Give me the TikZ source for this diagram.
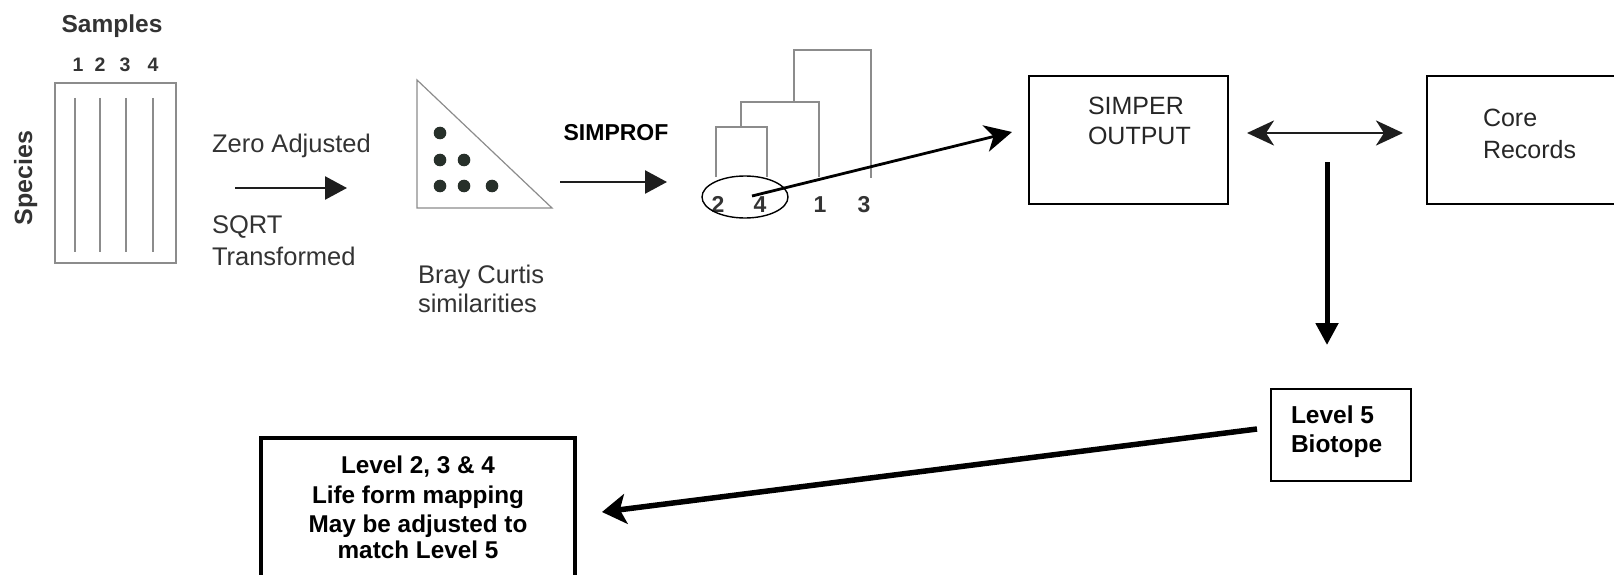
\documentclass[tikz,border=0pt]{standalone}
\usepackage{fontspec}
\setmainfont{Liberation Sans}
\usetikzlibrary{arrows.meta,shapes.geometric,calc}
\newcommand\myfs[1]{\fontsize{#1}{#1}\selectfont}
\definecolor{scangrey}{HTML}{333333}
\definecolor{lightline}{HTML}{8C8C8C}
\definecolor{arrowgrey}{HTML}{1E1E1E}
\definecolor{boxtext}{HTML}{262626}
\definecolor{dotcol}{HTML}{27302A}
\tikzset{
  every node/.style={inner sep=0pt, outer sep=0pt},
  scanbold/.style={text=scangrey, font=\bfseries\myfs{24.5}},
  scantxt/.style={text=scangrey, font=\myfs{25.5}},
  numlbl/.style={text=scangrey, font=\bfseries\myfs{19.5}, anchor=base},
  dendlbl/.style={text=scangrey, font=\bfseries\myfs{23}, anchor=base},
  thinline/.style={draw=lightline, line width=1.2pt},
  flowarrow/.style={draw=arrowgrey, line width=2.6pt, -{Triangle[length=22pt,width=23pt]}},
  boxtxt/.style={text=boxtext, font=\myfs{25}, anchor=base west},
  boldtxt/.style={text=black, font=\bfseries\myfs{24.3}},
  plainbox/.style={draw=black, line width=1.5pt, anchor=north west},
}
\begin{document}
\begin{tikzpicture}[x=1pt,y=-1pt]
\useasboundingbox (0,0) rectangle (1614,575);
\clip (0,0) rectangle (1614,575);
% ---- samples matrix
\node[scanbold, anchor=base] (samples) at (112,33) {Samples};
\foreach \n/\x in {1/78,2/100,3/125,4/153}{
  \node[numlbl] (num\n) at (\x,72) {\n};
}
\node[thinline, draw, minimum width=121pt, minimum height=180pt, anchor=north west] (matrix) at (55,83) {};
\foreach \x in {75,100,126,153}{
  \draw[thinline] (\x,98) -- (\x,252);
}
\node[scanbold, font=\bfseries\myfs{25}, rotate=90, anchor=base] (species) at (32,178) {Species};
% ---- zero adjusted arrow
\node[scantxt, anchor=base west] (zero) at (212,153) {Zero Adjusted};
\coordinate (za1) at (235,188);
\coordinate (za2) at (347,188);
\draw[flowarrow] (za1) -- (za2);
\node[scantxt, anchor=base west] (sqrt) at (212,233) {SQRT};
\node[scantxt, anchor=base west] (transf) at (212,265) {Transformed};
% ---- triangle
\coordinate (t1) at (417,80);
\coordinate (t2) at (417,208);
\coordinate (t3) at (552,208);
\draw[thinline, line join=miter] (t1) -- (t2) -- (t3) -- cycle;
\foreach \x/\y in {440/133,440/160,464/160,440/186,464/186,492/186}{
  \fill[dotcol] (\x,\y) circle (6.3pt);
}
\node[scantxt, anchor=base west] (bray) at (418,283) {Bray Curtis};
\node[scantxt, anchor=base west] (simil) at (418,312) {similarities};
% ---- simprof
\node[text=black, font=\bfseries\myfs{23}, anchor=base] (simprof) at (616,140) {SIMPROF};
\coordinate (sp1) at (560,182);
\coordinate (sp2) at (667,182);
\draw[flowarrow] (sp1) -- (sp2);
% ---- dendrogram
\draw[thinline] (716,177) -- (716,127) -- (767,127) -- (767,177);
\draw[thinline] (741,127) -- (741,102) -- (819,102) -- (819,177);
\draw[thinline] (794,102) -- (794,50) -- (871,50) -- (871,178);
\node[dendlbl] (d2) at (718,212) {2};
\node[dendlbl] (d4) at (760,212) {4};
\node[dendlbl] (d1) at (820,212) {1};
\node[dendlbl] (d3) at (864,212) {3};
\node[draw=black, line width=1.4pt, ellipse, minimum width=86pt, minimum height=42pt] (oval) at (745,197) {};
% ---- SIMPER box
\node[plainbox, minimum width=199pt, minimum height=128pt] (simper) at (1029,76) {};
\node[boxtxt] (simper1) at (1088,115) {SIMPER};
\node[boxtxt] (simper2) at (1088,145) {OUTPUT};
\coordinate (dstart) at (752,196);
\coordinate (dend) at (1012,132);
\draw[draw=black, line width=2.8pt, -{Stealth[length=27pt,width=27pt,inset=8pt]}] (dstart) -- (dend);
% ---- Core records
\node[plainbox, minimum width=240pt, minimum height=128pt] (core) at (1427,76) {};
\node[boxtxt] (core1) at (1483,127) {Core};
\node[boxtxt] (core2) at (1483,158) {Records};
\coordinate (da1) at ($(simper.east)+(19,-7)$);
\coordinate (da2) at ($(core.west)+(-24,-7)$);
\draw[draw=arrowgrey, line width=2.8pt, {Stealth[length=27pt,width=25pt,inset=8pt]}-{Stealth[length=27pt,width=25pt,inset=8pt]}] (da1) -- (da2);
% ---- down arrow
\coordinate (dn1) at (1327,162);
\coordinate (dn2) at (1327,345);
% ---- Level 5
\node[plainbox, line width=2pt, minimum width=140pt, minimum height=92pt] (lvl5) at (1271,389) {};
\node[boldtxt, font=\bfseries\myfs{24.5}, anchor=base west] (lvl5a) at (1291,423) {Level 5};
\node[boldtxt, font=\bfseries\myfs{24.5}, anchor=base west] (lvl5b) at (1291,452) {Biotope};
\draw[draw=black, line width=5pt, -{Triangle[length=22pt,width=22pt]}] (dn1) -- (dn2);
% ---- Level 2 box
\node[plainbox, line width=3.5pt, minimum width=314pt, minimum height=140pt] (lvl2) at (261,438) {};
\node[boldtxt, anchor=base] (l2a) at (418,473) {Level 2, 3 \& 4};
\node[boldtxt, anchor=base] (l2b) at (418,503) {Life form mapping};
\node[boldtxt, anchor=base] (l2c) at (418,532) {May be adjusted to};
\node[boldtxt, anchor=base] (l2d) at (418,558) {match Level 5};
\coordinate (l5start) at (1257,429);
\coordinate (l5end) at (602,512);
\draw[draw=black, line width=5.5pt, -{Stealth[length=24pt,width=30pt,inset=6pt]}] (l5start) -- (l5end);
\end{tikzpicture}
\end{document}
